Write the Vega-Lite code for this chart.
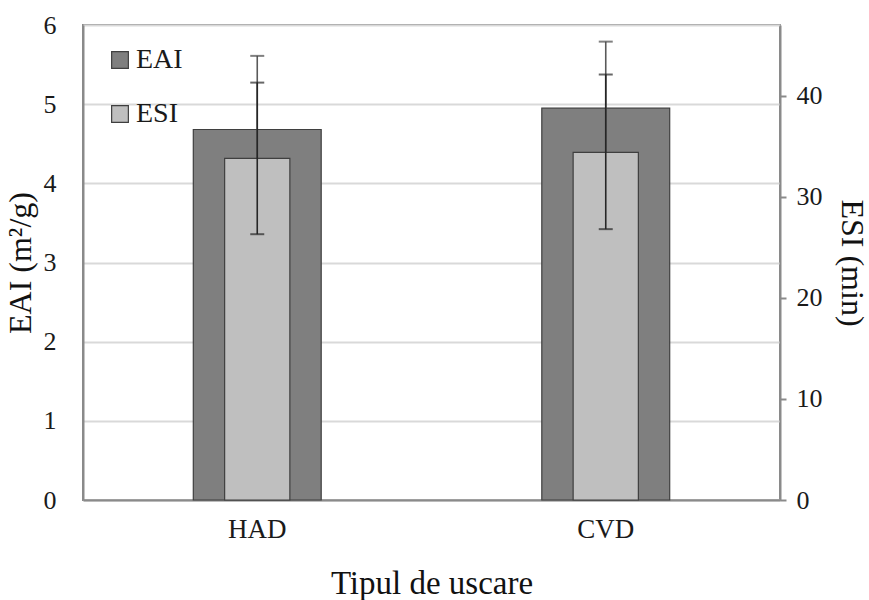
{
  "$schema": "https://vega.github.io/schema/vega-lite/v6.json",
  "autosize": {"type": "none"},
  "width": 697,
  "height": 475,
  "padding": {"left": 83, "top": 25, "right": 89, "bottom": 100},
  "background": "white",
  "config": {
    "font": "Liberation Serif",
    "view": {"stroke": "#8a8a8a", "strokeWidth": 2},
    "axis": {
      "labelFont": "Liberation Serif",
      "titleFont": "Liberation Serif",
      "labelColor": "#1a1a1a",
      "titleColor": "#111",
      "titleFontWeight": "normal",
      "domainColor": "#8a8a8a",
      "domainWidth": 2,
      "tickColor": "#8a8a8a",
      "tickWidth": 2
    }
  },
  "data": {
    "values": [
      {"tip": "HAD", "EAI": 4.68, "EAI_lo": 3.75, "EAI_hi": 5.61, "ESI": 33.8, "ESI_lo": 26.3, "ESI_hi": 41.3},
      {"tip": "CVD", "EAI": 4.95, "EAI_lo": 4.11, "EAI_hi": 5.79, "ESI": 34.4, "ESI_lo": 26.8, "ESI_hi": 42.1}
    ]
  },
  "encoding": {
    "x": {
      "field": "tip",
      "type": "nominal",
      "sort": ["HAD", "CVD"],
      "scale": {"paddingInner": 0.633, "paddingOuter": 0.3165},
      "axis": {
        "title": "Tipul de uscare",
        "labelAngle": 0,
        "labelFontSize": 27,
        "titleFontSize": 33,
        "ticks": false,
        "labelPadding": 16,
        "titlePadding": 25
      }
    }
  },
  "layer": [
    {
      "layer": [
        {
          "mark": {"type": "bar", "stroke": "#3f3f3f", "strokeWidth": 1.2},
          "encoding": {
            "y": {
              "field": "EAI",
              "type": "quantitative",
              "scale": {"domain": [0, 6], "nice": false},
              "axis": {"title": "EAI (m²/g)", "orient": "left", "values": [0, 1, 2, 3, 4, 5, 6], "format": "d", "ticks": false, "labelFontSize": 26, "titleFontSize": 32, "labelPadding": 27, "titlePadding": 6, "grid": true, "gridColor": "#d9d9d9", "gridWidth": 2}
            },
            "fill": {
              "datum": "EAI",
              "type": "nominal",
              "scale": {"domain": ["EAI", "ESI"], "range": ["#7f7f7f", "#bfbfbf"]},
              "legend": {
                "title": null,
                "orient": "none",
                "legendX": 23,
                "legendY": 21,
                "symbolType": "square",
                "symbolSize": 280,
                "symbolStrokeColor": "#3f3f3f",
                "symbolStrokeWidth": 1.2,
                "labelFont": "Liberation Serif",
                "labelFontSize": 28,
                "labelColor": "#1a1a1a",
                "labelOffset": 2,
                "rowPadding": 26
              }
            }
          }
        },
        {
          "mark": {"type": "rule", "color": "#5a5a5a", "strokeWidth": 1.6},
          "encoding": {
            "y": {
              "field": "EAI_lo",
              "type": "quantitative",
              "axis": {"title": "EAI (m²/g)", "orient": "left", "values": [0, 1, 2, 3, 4, 5, 6], "format": "d", "ticks": false, "labelFontSize": 26, "titleFontSize": 32, "labelPadding": 27, "titlePadding": 6, "grid": true, "gridColor": "#d9d9d9", "gridWidth": 2}
            },
            "y2": {"field": "EAI_hi"}
          }
        },
        {
          "mark": {"type": "tick", "color": "#4a4a4a", "size": 14, "thickness": 2},
          "encoding": {
            "y": {
              "field": "EAI_hi",
              "type": "quantitative",
              "axis": {"title": "EAI (m²/g)", "orient": "left", "values": [0, 1, 2, 3, 4, 5, 6], "format": "d", "ticks": false, "labelFontSize": 26, "titleFontSize": 32, "labelPadding": 27, "titlePadding": 6, "grid": true, "gridColor": "#d9d9d9", "gridWidth": 2}
            }
          }
        }
      ]
    },
    {
      "layer": [
        {
          "mark": {"type": "bar", "stroke": "#3f3f3f", "strokeWidth": 1.2, "width": {"band": 0.51}},
          "encoding": {
            "y": {
              "field": "ESI",
              "type": "quantitative",
              "scale": {"domain": [0, 47], "nice": false},
              "axis": {"title": "ESI (min)", "orient": "right", "values": [0, 10, 20, 30, 40], "format": "d", "tickSize": 6, "labelFontSize": 26, "titleFontSize": 32, "labelPadding": 10, "titlePadding": 12, "grid": false}
            },
            "fill": {"datum": "ESI", "type": "nominal"}
          }
        },
        {
          "mark": {"type": "rule", "color": "#262626", "strokeWidth": 1.6},
          "encoding": {
            "y": {
              "field": "ESI_lo",
              "type": "quantitative",
              "axis": {"title": "ESI (min)", "orient": "right", "values": [0, 10, 20, 30, 40], "format": "d", "tickSize": 6, "labelFontSize": 26, "titleFontSize": 32, "labelPadding": 10, "titlePadding": 12, "grid": false}
            },
            "y2": {"field": "ESI_hi"}
          }
        },
        {
          "mark": {"type": "tick", "color": "#262626", "size": 14, "thickness": 2},
          "encoding": {
            "y": {
              "field": "ESI_lo",
              "type": "quantitative",
              "axis": {"title": "ESI (min)", "orient": "right", "values": [0, 10, 20, 30, 40], "format": "d", "tickSize": 6, "labelFontSize": 26, "titleFontSize": 32, "labelPadding": 10, "titlePadding": 12, "grid": false}
            }
          }
        },
        {
          "mark": {"type": "tick", "color": "#262626", "size": 14, "thickness": 2},
          "encoding": {
            "y": {
              "field": "ESI_hi",
              "type": "quantitative",
              "axis": {"title": "ESI (min)", "orient": "right", "values": [0, 10, 20, 30, 40], "format": "d", "tickSize": 6, "labelFontSize": 26, "titleFontSize": 32, "labelPadding": 10, "titlePadding": 12, "grid": false}
            }
          }
        }
      ]
    }
  ],
  "resolve": {"scale": {"y": "independent"}}
}
